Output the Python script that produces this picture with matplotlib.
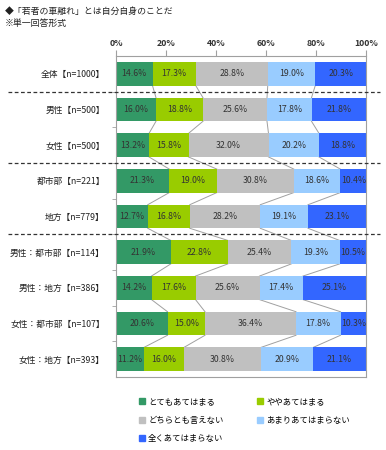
import numpy as np
import matplotlib.pyplot as plt
from matplotlib.patches import Patch

plt.rcParams['font.family'] = ['Noto Sans CJK JP', 'DejaVu Sans']

# data
categories = ['全体【n=1000】', '男性【n=500】', '女性【n=500】', '都市部【n=221】', '地方【n=779】',
              '男性：都市部【n=114】', '男性：地方【n=386】', '女性：都市部【n=107】', '女性：地方【n=393】']
series = ['とてもあてはまる', 'ややあてはまる', 'どちらとも言えない', 'あまりあてはまらない', '全くあてはまらない']
totemo = [14.6, 16.0, 13.2, 21.3, 12.7, 21.9, 14.2, 20.6, 11.2]
yaya = [17.3, 18.8, 15.8, 19.0, 16.8, 22.8, 17.6, 15.0, 16.0]
dochira = [28.8, 25.6, 32.0, 30.8, 28.2, 25.4, 25.6, 36.4, 30.8]
amari = [19.0, 17.8, 20.2, 18.6, 19.1, 19.3, 17.4, 17.8, 20.9]
mattaku = [20.3, 21.8, 18.8, 10.4, 23.1, 10.5, 25.1, 10.3, 21.1]
colors = ['#339966', '#99CC00', '#C0C0C0', '#99CCFF', '#3366FF']

vals = np.array([totemo, yaya, dochira, amari, mattaku])
n = len(categories)
y = np.arange(n)
h = 0.66

fig = plt.figure(figsize=(3.86, 4.5), dpi=100)
ax = fig.add_axes([116/386, 1-377/450, 250/386, 321/450])

left = np.zeros(n)
for k in range(5):
    ax.barh(y, vals[k], left=left, height=h, color=colors[k], edgecolor='none', zorder=2)
    for i in range(n):
        ax.text(left[i] + vals[k][i]/2, y[i], f'{vals[k][i]:.1f}%', ha='center', va='center',
                fontsize=6.3, color='#333333', zorder=3)
    left = left + vals[k]

# series lines between bars
cum = np.cumsum(vals, axis=0)
for k in range(4):
    for i in range(n-1):
        ax.plot([cum[k][i], cum[k][i+1]], [y[i]+h/2, y[i+1]-h/2], color='#A0A0A0', lw=0.7, zorder=1)

ax.set_xlim(0, 100)
ax.set_ylim(n-0.5, -0.5)
ax.xaxis.tick_top()
ax.set_xticks([0, 20, 40, 60, 80, 100])
ax.set_xticklabels(['0%', '20%', '40%', '60%', '80%', '100%'], fontsize=6.3, color='#333333', fontweight='bold')
ax.tick_params(axis='x', length=4, color='#A0A0A0', pad=2)
ax.set_yticks(y)
ax.set_yticklabels(categories, fontsize=6.3, color='#222222')
ax.tick_params(axis='y', length=0, pad=8)
ax.set_yticks(np.arange(n-1)+0.5, minor=True)
ax.tick_params(axis='y', which='minor', length=3, color='#A0A0A0')
for s in ax.spines.values():
    s.set_color('#A0A0A0')
    s.set_linewidth(0.8)

# dashed group separators
tr = ax.get_yaxis_transform()
for sep in [0.5, 2.5, 4.5]:
    ax.plot([-0.432, 1.056], [sep, sep], transform=tr, color='#333333', lw=0.9,
            ls=(0, (3, 2)), clip_on=False, zorder=4)

fig.text(5/386, 1-11/450, '◆「若者の車離れ」とは自分自身のことだ', fontsize=6.4, va='center', color='#222222')
fig.text(5/386, 1-23/450, '※単一回答形式', fontsize=6.4, va='center', color='#222222')

handles = [Patch(color=c) for c in colors]
order = [0, 2, 4, 1, 3]
fig.legend([handles[i] for i in order], [series[i] for i in order], ncol=2, loc='upper left',
           bbox_to_anchor=(139/386, 1-397/450), frameon=False, fontsize=6,
           handlelength=0.7, handleheight=0.7, handletextpad=0.4, columnspacing=4.0,
           labelspacing=1.15, borderaxespad=0, borderpad=0)

fig.savefig('out.png', dpi=100)
